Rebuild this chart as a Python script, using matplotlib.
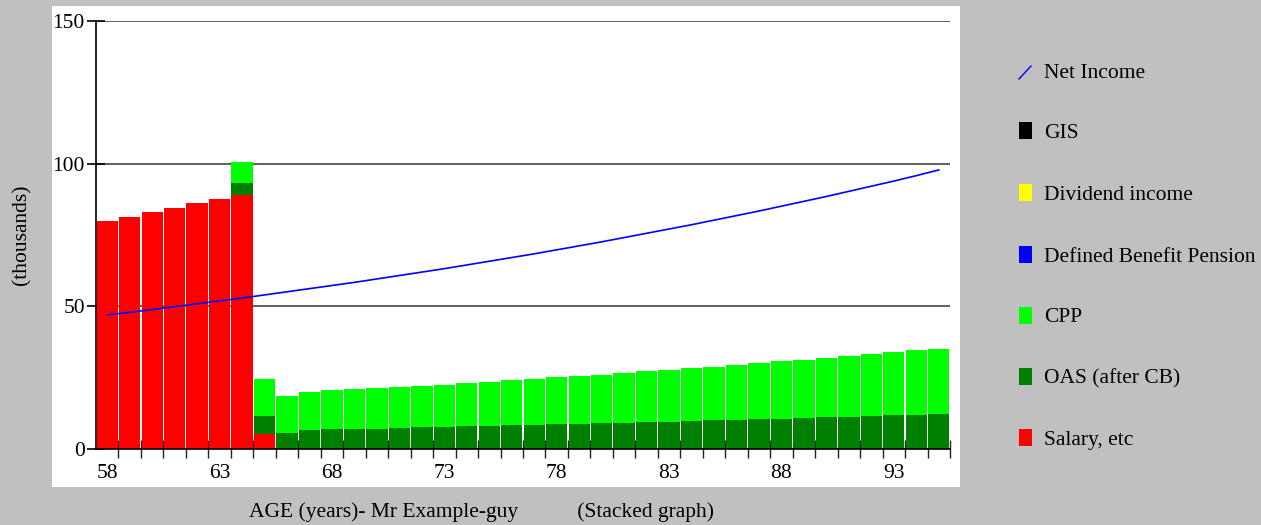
import numpy as np
import matplotlib
matplotlib.use("Agg")
import matplotlib.pyplot as plt
from matplotlib.patches import Rectangle
from matplotlib.lines import Line2D

plt.rcParams['font.family'] = ['Liberation Serif', 'DejaVu Serif']

# ages 58..95
ages = list(range(58, 96))

salary = [80.0, 81.4, 83.0, 84.5, 86.1, 87.7, 89.0, 5.4] + [0.0] * 30

oas = [0.0] * 6 + [4.2, 6.3,
       5.6, 6.8, 6.9, 7.1, 7.1, 7.5, 7.6, 7.8, 7.9, 8.2,
       8.3, 8.4, 8.6, 8.9, 9.0, 9.2, 9.5, 9.6, 9.9, 10.0,
       10.3, 10.4, 10.6, 11.0, 11.1, 11.3, 11.7, 11.8, 12.0, 12.4]

# stacked totals (salary + oas + cpp)
totals = [80.0, 81.4, 83.0, 84.5, 86.1, 87.7, 100.5, 24.4,
          18.6, 20.1, 20.6, 20.9, 21.4, 21.8, 22.2, 22.5, 23.1, 23.6,
          24.1, 24.5, 25.1, 25.6, 26.0, 26.6, 27.3, 27.7, 28.3, 28.9,
          29.4, 30.1, 30.7, 31.2, 31.9, 32.5, 33.3, 33.9, 34.6, 35.2]
cpp = [round(t - s - o, 1) for t, s, o in zip(totals, salary, oas)]

db_pension = [0.0] * 38
dividend = [0.0] * 38
gis = [0.0] * 38

net_income = [47.0, 47.9, 48.9, 49.9, 50.9, 51.9, 52.9, 54.0, 55.1, 56.2,
              57.3, 58.4, 59.6, 60.8, 62.0, 63.2, 64.5, 65.8, 67.1, 68.4,
              69.8, 71.2, 72.6, 74.1, 75.6, 77.1, 78.6, 80.2, 81.8, 83.4,
              85.1, 86.8, 88.5, 90.3, 92.1, 93.9, 95.8, 97.8]

legend_labels = ["Net Income", "GIS", "Dividend income", "Defined Benefit Pension",
                 "CPP", "OAS (after CB)", "Salary, etc"]
legend_colors = ["#0000ff", "#000000", "#ffff00", "#0000ff",
                 "#00ff00", "#008000", "#ff0000"]

W, H = 1261, 525
fig = plt.figure(figsize=(W / 100, H / 100), dpi=100)
fig.patch.set_facecolor("#c0c0c0")

# white panel behind the plot
fig.add_artist(Rectangle((52 / W, 1 - 487 / H), (960 - 52) / W, (487 - 6) / H,
                         transform=fig.transFigure, facecolor="white",
                         edgecolor="none", zorder=0))

ax = fig.add_axes([96 / W, 1 - 449 / H, (950 - 96) / W, (449 - 21) / H])
ax.set_facecolor("white")
ax.set_zorder(1)

x = np.array(ages)
bottom = np.zeros(len(ages))
series = [(salary, "#ff0000"), (oas, "#008000"), (cpp, "#00ff00"),
          (db_pension, "#0000ff"), (dividend, "#ffff00"), (gis, "#000000")]
for vals, col in series:
    v = np.array(vals)
    ax.bar(x, v, bottom=bottom, width=0.95, color=col, linewidth=0, zorder=2)
    bottom += v

ax.plot(x, net_income, color="#0000ff", lw=1.2, zorder=3)

ax.set_xlim(57.5, 95.5)
ax.set_ylim(0, 150)

for s in ["top", "right"]:
    ax.spines[s].set_visible(False)
for s in ["left", "bottom"]:
    ax.spines[s].set_color("black")
    ax.spines[s].set_linewidth(1.2)
    ax.spines[s].set_zorder(4)

ax.set_yticks([0, 50, 100, 150])
ax.yaxis.grid(True, color="#444444", lw=1.2, zorder=0)
ax.set_axisbelow(True)
ax.tick_params(axis="y", direction="inout", length=13, width=1.2,
               color="black", labelsize=15.5, pad=1.5)

ax.set_xticks(list(range(58, 96, 5)))
ax.set_xticks(np.arange(58.5, 96, 1), minor=True)
ax.tick_params(axis="x", which="major", length=0, labelsize=15.5, pad=11)
ax.tick_params(axis="x", which="minor", direction="inout", length=13,
               width=1.0, color="#222222")

fig.text(22 / W, 1 - 235 / H, "(thousands)", rotation=90,
         ha="center", va="center", fontsize=15.5)
fig.text(482 / W, 1 - 512 / H,
         "AGE (years)- Mr Example-guy           (Stacked graph)",
         ha="center", va="center", fontsize=15.5)

# legend on the right
ys = [73, 133, 195, 257, 318, 379, 440]
for lab, col, yy in zip(legend_labels, legend_colors, ys):
    if lab == "Net Income":
        fig.add_artist(Line2D([1019 / W, 1031 / W], [1 - 79 / H, 1 - 66 / H],
                              transform=fig.transFigure, color=col, lw=1))
    else:
        fig.add_artist(Rectangle((1019 / W, 1 - (yy + 6) / H), 13 / W, 17 / H,
                                 transform=fig.transFigure, facecolor=col,
                                 edgecolor="none"))
    fig.text(1044 / W, 1 - yy / H, lab, ha="left", va="center", fontsize=15.5)

fig.savefig("out.png", dpi=100, facecolor=fig.get_facecolor())
